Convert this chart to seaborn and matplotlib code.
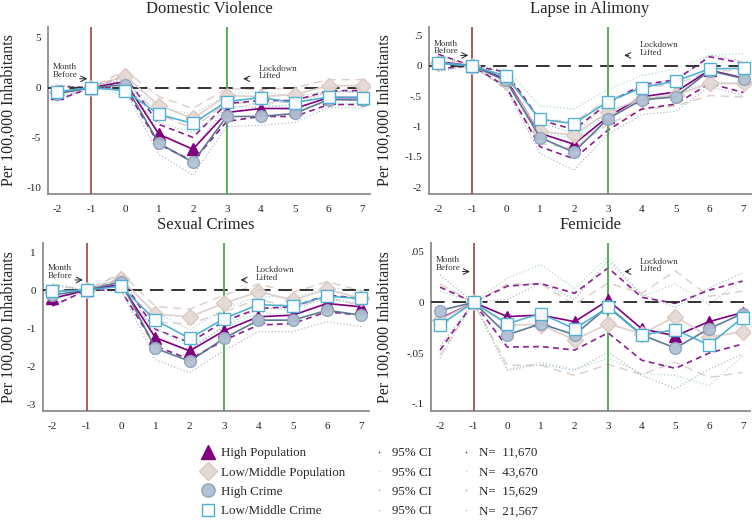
import numpy as np
import pandas as pd
import matplotlib
matplotlib.use("Agg")
import matplotlib.pyplot as plt
from matplotlib.lines import Line2D
from matplotlib.ticker import FuncFormatter
import seaborn as sns

# months relative to lockdown
months = [-2, -1, 0, 1, 2, 3, 4, 5, 6, 7]

# Domestic Violence
dv_high_pop = [-0.55, 0, 0.6, -4.7, -6.2, -2.5, -2.1, -2.1, -1.0, -1.0]
dv_low_pop = [-0.45, 0, 1.2, -1.8, -3.1, -0.8, -0.9, -0.7, 0.2, 0.2]
dv_high_crime = [-0.6, 0, 0.3, -5.6, -7.5, -2.9, -2.9, -2.6, -1.2, -1.25]
dv_low_crime = [-0.4, 0, -0.3, -2.7, -3.6, -1.4, -1.0, -1.5, -0.95, -1.0]
dv_high_pop_ci = [0.7, 0, 0.6, 1.0, 1.2, 0.9, 0.8, 0.8, 0.7, 0.7]
dv_low_pop_ci = [0.6, 0, 0.5, 0.9, 1.0, 0.7, 0.7, 0.7, 0.6, 0.6]
dv_high_crime_ci = [0.8, 0, 0.6, 1.1, 1.3, 1.0, 0.9, 0.9, 0.8, 0.8]
dv_low_crime_ci = [0.6, 0, 0.5, 0.8, 0.9, 0.7, 0.6, 0.6, 0.6, 0.6]

# Lapse in Alimony
al_high_pop = [0.07, 0, -0.22, -1.11, -1.29, -0.84, -0.51, -0.43, -0.07, -0.2]
al_low_pop = [0.05, 0, -0.26, -1.08, -1.14, -0.76, -0.54, -0.48, -0.29, -0.29]
al_high_crime = [0.05, 0, -0.24, -1.18, -1.42, -0.87, -0.56, -0.51, -0.08, -0.21]
al_low_crime = [0.05, 0, -0.17, -0.88, -0.95, -0.59, -0.36, -0.25, -0.05, -0.04]
al_high_pop_ci = [0.12, 0, 0.12, 0.22, 0.24, 0.22, 0.2, 0.2, 0.22, 0.24]
al_low_pop_ci = [0.1, 0, 0.1, 0.2, 0.22, 0.2, 0.18, 0.18, 0.2, 0.22]
al_high_crime_ci = [0.14, 0, 0.14, 0.26, 0.3, 0.26, 0.24, 0.24, 0.26, 0.28]
al_low_crime_ci = [0.12, 0, 0.12, 0.22, 0.24, 0.2, 0.2, 0.2, 0.22, 0.24]

# Sexual Crimes
sc_high_pop = [-0.22, 0, 0.15, -1.25, -1.6, -1.07, -0.7, -0.66, -0.35, -0.44]
sc_low_pop = [-0.05, 0, 0.3, -0.63, -0.7, -0.35, -0.04, -0.26, 0.02, -0.22]
sc_high_crime = [-0.13, 0, 0.22, -1.53, -1.87, -1.27, -0.79, -0.79, -0.53, -0.66]
sc_low_crime = [-0.03, 0, 0.1, -0.79, -1.27, -0.75, -0.38, -0.42, -0.16, -0.22]
sc_high_pop_ci = [0.2, 0, 0.15, 0.22, 0.22, 0.25, 0.22, 0.22, 0.22, 0.22]
sc_low_pop_ci = [0.2, 0, 0.15, 0.2, 0.2, 0.22, 0.2, 0.2, 0.2, 0.2]
sc_high_crime_ci = [0.25, 0, 0.2, 0.3, 0.3, 0.32, 0.3, 0.3, 0.3, 0.3]
sc_low_crime_ci = [0.2, 0, 0.15, 0.22, 0.22, 0.25, 0.22, 0.22, 0.22, 0.22]

# Femicide
fe_high_pop = [-0.016, 0, -0.014, -0.0125, -0.019, 0.002, -0.026, -0.033, -0.019, -0.01]
fe_low_pop = [-0.017, 0, -0.022, -0.022, -0.037, -0.021, -0.031, -0.014, -0.034, -0.029]
fe_high_crime = [-0.008, 0, -0.032, -0.021, -0.032, -0.004, -0.032, -0.045, -0.026, -0.011]
fe_low_crime = [-0.022, 0, -0.021, -0.011, -0.026, -0.005, -0.032, -0.027, -0.042, -0.015]
fe_high_pop_ci = [0.031, 0, 0.03, 0.031, 0.028, 0.032, 0.031, 0.032, 0.031, 0.031]
fe_low_pop_ci = [0.035, 0, 0.04, 0.04, 0.035, 0.04, 0.04, 0.045, 0.04, 0.04]
fe_high_crime_ci = [0.035, 0, 0.035, 0.04, 0.035, 0.045, 0.04, 0.04, 0.04, 0.04]
fe_low_crime_ci = [0.033, 0, 0.045, 0.048, 0.04, 0.05, 0.038, 0.045, 0.04, 0.038]

titles = ["Domestic Violence", "Lapse in Alimony", "Sexual Crimes", "Femicide"]
yticks = [[5, 0, -5, -10], [0.5, 0, -0.5, -1, -1.5, -2],
          [1, 0, -1, -2, -3], [0.05, 0, -0.05, -0.1]]
group_labels = ["High Population", "Low/Middle Population", "High Crime", "Low/Middle Crime"]
sample_sizes = ["11,670", "43,670", "15,629", "21,567"]

panel_means = [
    [dv_high_pop, dv_low_pop, dv_high_crime, dv_low_crime],
    [al_high_pop, al_low_pop, al_high_crime, al_low_crime],
    [sc_high_pop, sc_low_pop, sc_high_crime, sc_low_crime],
    [fe_high_pop, fe_low_pop, fe_high_crime, fe_low_crime],
]
panel_cis = [
    [dv_high_pop_ci, dv_low_pop_ci, dv_high_crime_ci, dv_low_crime_ci],
    [al_high_pop_ci, al_low_pop_ci, al_high_crime_ci, al_low_crime_ci],
    [sc_high_pop_ci, sc_low_pop_ci, sc_high_crime_ci, sc_low_crime_ci],
    [fe_high_pop_ci, fe_low_pop_ci, fe_high_crime_ci, fe_low_crime_ci],
]

# ---- layout (pixels) ----
W, H = 752, 521
# left, right, top, bottom in px
boxes = [(48, 370, 27, 194), (429, 751, 27, 194), (43, 369, 243, 411), (431, 750, 243, 411)]
ylims = [(-10.7, 6.1), (-2.11, 0.64), (-3.18, 1.24), (-0.107, 0.0585)]
ylabel_x = [-0.098, -0.112, -0.082, -0.119]
# y (axes fraction) of the "Month Before" / "Lockdown Lifted" arrows
note_y = [0.69, 0.83, 0.78, 0.83]
XLIM = (-2.27, 7.22)

# styles per group
styles = [
    dict(color="#800080", marker="^", ms=9, mfc="#800080", mec="#800080"),
    dict(color="#dccdc8", marker="D", ms=8, mfc="#e6d9d5", mec="#d9c7c1"),
    dict(color="#55738f", marker="o", ms=8.5, mfc="#b2c2d4", mec="#8ea3ba"),
    dict(color="#4aaed0", marker="s", ms=8, mfc="white", mec="#4aaed0"),
]
ci_styles = [
    dict(color="#8a1f8f", lw=1.2, dashes=(3.5, 2.5)),
    dict(color="#dccdc8", lw=1.0, dashes=(6, 4)),
    dict(color="#9eaec2", lw=0.8, dashes=(1, 2)),
    dict(color="#9fd0c8", lw=0.8, dashes=(1, 2)),
]
draw_order = [1, 2, 0, 3]

sns.set_style("white")
plt.rcParams["font.family"] = ["Liberation Serif", "DejaVu Serif"]
plt.rcParams["axes.unicode_minus"] = False

fig = plt.figure(figsize=(W / 100, H / 100), dpi=100)


def fmt(v, pos):
    s = "%g" % v
    return s.replace("0.", ".") if s != "0" else s


for i in range(4):
    l, r, t, b = boxes[i]
    ax = fig.add_axes([l / W, 1 - b / H, (r - l) / W, (b - t) / H])
    # confidence intervals
    for g in draw_order:
        m = np.array(panel_means[i][g])
        hw = np.array(panel_cis[i][g])
        cs = ci_styles[g]
        for band in (m + hw, m - hw):
            sns.lineplot(x=months, y=band, ax=ax, color=cs["color"], lw=cs["lw"],
                         dashes=cs["dashes"], zorder=2)
    ax.axhline(0, color="#333333", lw=1.4, dashes=(7, 4), zorder=3)
    ax.axvline(-1, color="#a2504c", lw=1.3, zorder=3)
    ax.axvline(3, color="#4aa84a", lw=1.3, zorder=3)
    # means
    for g in draw_order:
        st = styles[g]
        df = pd.DataFrame({"month": months, "value": panel_means[i][g]})
        sns.lineplot(data=df, x="month", y="value", ax=ax, color=st["color"], lw=1.2,
                     marker=st["marker"], markersize=st["ms"], markerfacecolor=st["mfc"],
                     markeredgecolor=st["mec"], markeredgewidth=1.0,
                     alpha=0.95 if g != 0 else 1, zorder=4 + g)

    ax.annotate("", xy=(-1.03, note_y[i]), xytext=(-1.42, note_y[i]),
                xycoords=("data", "axes fraction"),
                arrowprops=dict(arrowstyle="->", lw=0.7, color="#222222"))
    ax.text(-2.12, note_y[i], "Month\nBefore", transform=ax.get_xaxis_transform(),
            fontsize=6.5, va="bottom", ha="left", color="#333333", linespacing=0.95)
    ax.annotate("", xy=(3.4, note_y[i]), xytext=(3.7, note_y[i]),
                xycoords=("data", "axes fraction"),
                arrowprops=dict(arrowstyle="->", lw=0.7, color="#222222"))
    ax.text(3.93, note_y[i] - 0.01, "Lockdown\nLifted", transform=ax.get_xaxis_transform(),
            fontsize=6.5, va="bottom", ha="left", color="#333333", linespacing=0.95)

    ax.set_xlim(XLIM)
    ax.set_ylim(ylims[i])
    ax.set_xticks(months)
    ax.set_yticks(yticks[i])
    ax.yaxis.set_major_formatter(FuncFormatter(fmt))
    ax.tick_params(axis="both", length=0, labelsize=8, colors="#222222")
    ax.tick_params(axis="x", pad=8)
    ax.tick_params(axis="y", pad=5)
    ax.set_xlabel("")
    ax.set_ylabel("Per 100,000 Inhabitants", fontsize=11.5)
    ax.yaxis.set_label_coords(ylabel_x[i], 0.5)
    ax.set_title(titles[i], fontsize=12, pad=10)
    for side in ("top", "right"):
        ax.spines[side].set_visible(False)
    for side in ("left", "bottom"):
        ax.spines[side].set_color("#8c8c8c")
        ax.spines[side].set_linewidth(1.3)

# legend: groups / CI / sample size
handles, labels = [], []
for g in range(4):
    st = styles[g]
    handles.append(Line2D([], [], ls="none", marker=st["marker"], markersize=st["ms"] + 1,
                          markerfacecolor=st["mfc"], markeredgecolor=st["mec"]))
    labels.append(group_labels[g])
for g in range(4):
    handles.append(Line2D([], [], ls="none", marker="o", markersize=1.2,
                          markerfacecolor=ci_styles[g]["color"], markeredgecolor="none"))
    labels.append("95% CI")
for g in range(4):
    handles.append(Line2D([], [], ls="none", marker="o", markersize=1.2,
                          markerfacecolor=ci_styles[g]["color"], markeredgecolor="none"))
    labels.append("N=  " + sample_sizes[g])

fig.legend(handles, labels, ncol=3, loc="upper left", bbox_to_anchor=(201 / W, 1 - 447 / H),
           frameon=False, fontsize=9.4, handlelength=1.0, handletextpad=0.5,
           columnspacing=2.1, labelspacing=0.56, borderpad=0, borderaxespad=0)

fig.savefig("out.png", dpi=100)
